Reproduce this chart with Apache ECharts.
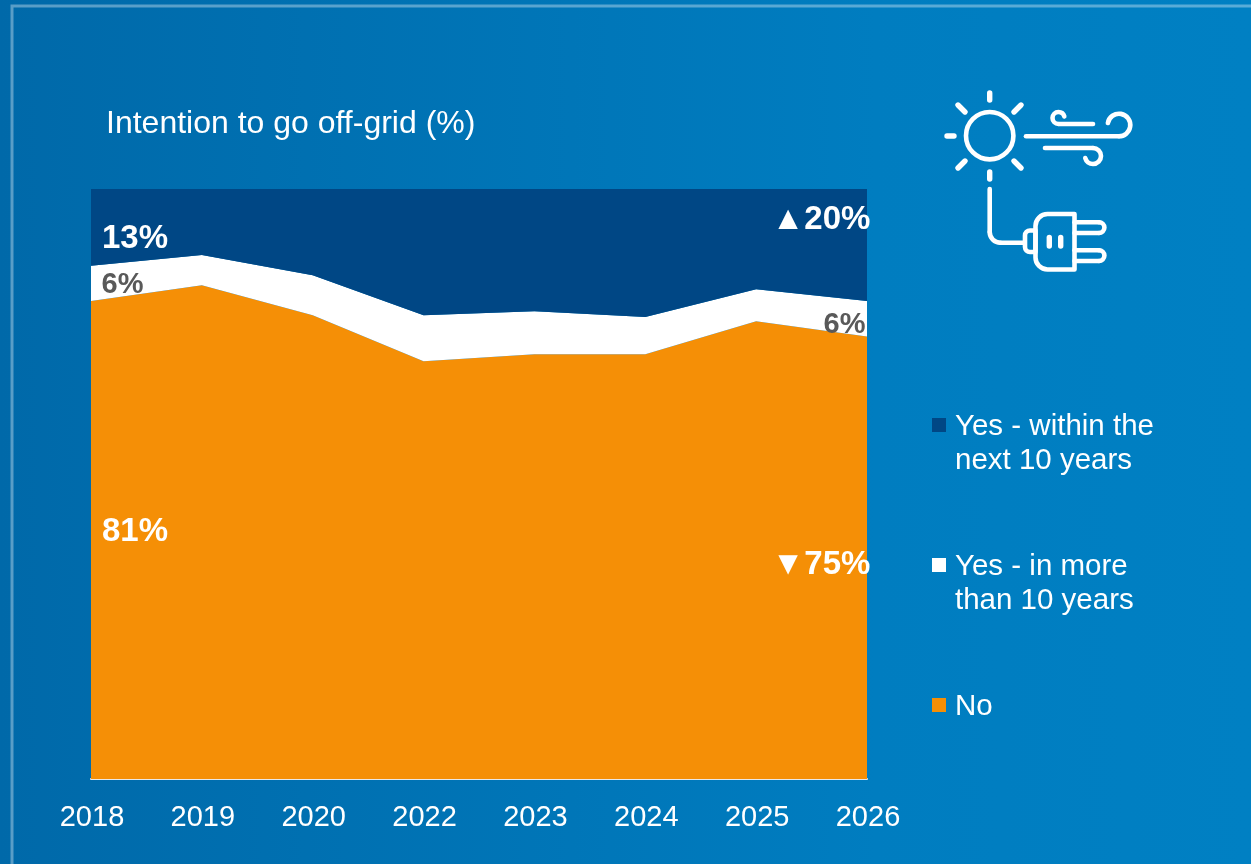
<!DOCTYPE html>
<html>
<head>
<meta charset="utf-8">
<style>html,body{margin:0;padding:0;background:#0074B6}#chart{width:1251px;height:864px}</style>
<script src="https://cdn.jsdelivr.net/npm/echarts@6/dist/echarts.min.js"></script>
</head>
<body>
<div id="chart"></div>
<script>
// Survey results: intention to go off-grid, share of respondents per wave
const years = ['2018', '2019', '2020', '2022', '2023', '2024', '2025', '2026'];
const noValues = [81, 83.7, 78.6, 70.8, 72, 72, 77.6, 75];
const laterValues = [6, 5.1, 6.8, 7.8, 7.3, 6.3, 5.4, 6];
const soonValues = [13, 11.2, 14.6, 21.4, 20.7, 21.7, 17, 20];

const titleText = 'Intention to go off-grid (%)';
const soonName = 'Yes - within the next 10 years';
const laterName = 'Yes - in more than 10 years';
const noName = 'No';
const legendLines = {
  [soonName]: ['Yes - within the', 'next 10 years'],
  [laterName]: ['Yes - in more', 'than 10 years'],
  [noName]: ['No', ' ']
};

const font = '"Liberation Sans", Arial, sans-serif';
const NAVY = '#004785', ORANGE = '#F58F06', WHITE = '#FFFFFF', GREY = '#595959';

// Direct value label anchored at a year and a height on the value axis
function valueLabel(text, yearIndex, height, dx, color, size) {
  return {
    coord: [yearIndex, height],
    value: text,
    symbolSize: 0,
    label: {
      show: true, formatter: text, color: color,
      fontFamily: font, fontWeight: 'bold', fontSize: size || 33,
      offset: [dx, 0]
    }
  };
}

function bandSeries(name, values, color, marks) {
  return {
    name, type: 'line', stack: 'share', data: values,
    symbol: 'none', lineStyle: { width: 0 },
    itemStyle: { color },
    areaStyle: { color, opacity: 1 },
    markPoint: { silent: true, symbol: 'circle', symbolSize: 0, data: marks }
  };
}

const last = years.length - 1;

// Sun, wind and plug pictogram, stroked in white
const stroke = { stroke: '#fff', lineWidth: 4.6, fill: 'none', lineCap: 'round', lineJoin: 'round' };
const deg = Math.PI / 180;
const seg = (x1, y1, x2, y2, width) => ({
  type: 'line', silent: true, shape: { x1, y1, x2, y2 },
  style: Object.assign({}, stroke, width ? { lineWidth: width } : {})
});
const arc = (cx, cy, r, from, to) => ({
  type: 'arc', silent: true,
  shape: { cx, cy, r, startAngle: from * deg, endAngle: to * deg, clockwise: true },
  style: stroke
});
const box = (x, y, width, height, r) => ({ type: 'rect', silent: true, shape: { x, y, width, height, r }, style: stroke });

const iconParts = [
  { type: 'circle', silent: true, shape: { cx: 989.7, cy: 135.7, r: 23.7 }, style: stroke },
  // sun rays
  seg(989.7, 93, 989.7, 100, 5.4), seg(989.7, 172, 989.7, 179, 5.4), seg(947, 136, 954, 136, 5.4),
  seg(958, 105, 965, 112, 5.4), seg(1021, 105, 1014, 112, 5.4), seg(958, 168, 965, 161, 5.4), seg(1021, 168, 1014, 161, 5.4),
  // wind streaks
  seg(1026, 136.3, 1119, 136.3), arc(1119, 125, 11.3, 190, 90),
  seg(1059, 124, 1093, 124), arc(1058.5, 118, 6, 90, -15),
  seg(1045, 148, 1093, 148), arc(1093, 156, 8, 270, 165),
  // cord
  seg(989.7, 189, 989.7, 232), arc(1000.4, 232, 10.7, 90, 180), seg(1000.4, 242.7, 1023, 242.7),
  // plug
  box(1025, 230.5, 10.5, 21.5, [5, 0, 0, 5]),
  box(1035.5, 214, 39, 55.5, [12, 0, 0, 12]),
  seg(1074.5, 222.2, 1099, 222.2), arc(1099, 227.6, 5.4, -90, 90), seg(1099, 233, 1074.5, 233),
  seg(1074.5, 250.2, 1099, 250.2), arc(1099, 255.6, 5.4, -90, 90), seg(1099, 261, 1074.5, 261),
  seg(1049.3, 237.5, 1049.3, 246, 5.4), seg(1060.7, 237.5, 1060.7, 246, 5.4)
];

const chart = echarts.init(document.getElementById('chart'), null, { renderer: 'canvas' });
chart.setOption({
  animation: false,
  backgroundColor: {
    type: 'linear', x: 0, y: 0, x2: 1, y2: 0,
    colorStops: [
      { offset: 0, color: '#0069A9' },
      { offset: 0.7, color: '#007DC0' },
      { offset: 1, color: '#0080C3' }
    ]
  },
  title: {
    text: titleText, left: 101, top: 103,
    textStyle: { color: '#fff', fontFamily: font, fontWeight: 'normal', fontSize: 32 }
  },
  grid: { left: 91, right: 384, top: 189, bottom: 85 },
  xAxis: {
    type: 'category', data: years, boundaryGap: false,
    axisTick: { show: false }, splitLine: { show: false },
    axisLine: { lineStyle: { color: '#E8E8E8', width: 2 } },
    axisLabel: {
      color: '#fff', fontFamily: font, fontSize: 29, margin: 24,
      padding: [0, 0, 0, 2], showMinLabel: true, showMaxLabel: true
    }
  },
  yAxis: { type: 'value', min: 0, max: 100, show: false },
  legend: {
    orient: 'vertical', left: 927, top: 381, itemWidth: 14, itemHeight: 14, itemGap: 50, icon: 'rect',
    selectedMode: false,
    data: [soonName, laterName, noName],
    // The empty first row keeps each swatch level with the first text row
    formatter: name => '{spacer| }\n' + legendLines[name].map(line => '{row|' + line + '}').join('\n'),
    textStyle: {
      color: '#fff', padding: [0, 0, 0, 4],
      rich: {
        spacer: { fontSize: 10, lineHeight: 38 },
        row: { color: '#fff', fontFamily: font, fontSize: 29.5, lineHeight: 34 }
      }
    }
  },
  series: [
    bandSeries(noName, noValues, ORANGE, [
      valueLabel(noValues[0] + '%', 0, 41.9, 44, WHITE),
      valueLabel('▼' + noValues[last] + '%', last, 36.3, -46, WHITE)
    ]),
    bandSeries(laterName, laterValues, WHITE, [
      valueLabel(laterValues[0] + '%', 0, 83.8, 31.5, GREY, 29),
      valueLabel(laterValues[last] + '%', last, 77, -22.5, GREY, 29)
    ]),
    bandSeries(soonName, soonValues, NAVY, [
      valueLabel(soonValues[0] + '%', 0, 91.6, 44, WHITE),
      valueLabel('▲' + soonValues[last] + '%', last, 94.8, -46, WHITE)
    ])
  ],
  graphic: [
    {
      type: 'rect', silent: true, z: 0,
      shape: { x: 12, y: 6, width: 1400, height: 1000 },
      style: { fill: 'none', stroke: 'rgba(255,255,255,0.35)', lineWidth: 3 }
    }
  ].concat(iconParts)
});
</script>
</body>
</html>
